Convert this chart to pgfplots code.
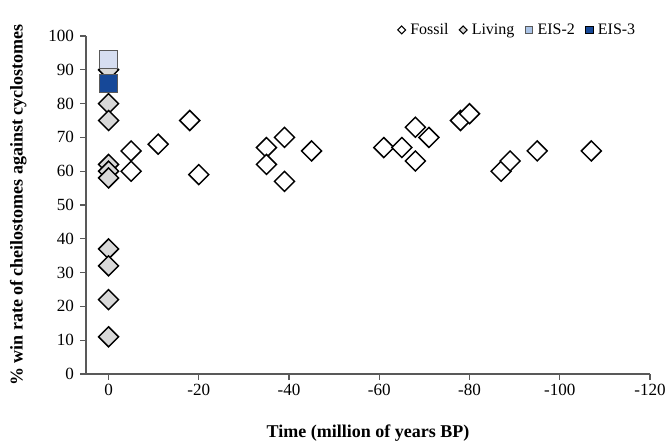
\documentclass[border=0pt]{standalone}
\usepackage{fontspec}
\setmainfont{Liberation Serif}
\usepackage{pgfplots}
\pgfplotsset{compat=1.18}
\definecolor{axisgray}{RGB}{89,89,89}
\definecolor{livgray}{RGB}{217,217,217}
\definecolor{eistwo}{RGB}{214,222,241}
\definecolor{eistwoleg}{RGB}{170,195,230}
\definecolor{eisthree}{RGB}{22,72,152}
\pgfplotsset{dotleg/.style={legend image code/.code={\draw[##1] plot coordinates {(0pt,0pt)};}}}

\begin{document}
\begin{tikzpicture}
\begin{axis}[
  name=ax,
  scale only axis, width=423pt, height=253.5pt,
  x dir=reverse, xmin=-120, xmax=5, ymin=0, ymax=100,
  axis x line*=bottom, axis y line*=left,
  axis line style={-, draw=axisgray, line width=1.1pt},
  xtick={0,-20,-40,-60,-80,-100,-120},
  xticklabels={0,-20,-40,-60,-80,-100,-120},
  ytick={0,10,...,100},
  tick align=outside, major tick length=4.25pt,
  tick style={draw=axisgray, line width=0.9pt},
  /pgf/number format/assume math mode=true,
  ticklabel style={font=\fontsize{12.8}{15}\selectfont},
  yticklabel style={xshift=-1.2pt},
  xlabel={\textbf{Time (million of years BP)}},
  ylabel={\textbf{\% win rate of cheilostomes against cyclostomes}},
  every axis x label/.style={at={(axis description cs:0.5,-0.174)}, anchor=center,
    font=\fontsize{13.5}{16}\selectfont},
  every axis y label/.style={at={(axis description cs:-0.12,0.5)}, rotate=90, anchor=center,
    font=\fontsize{13.5}{16}\selectfont},
  legend style={at={(rel axis cs:0.979,1.018)}, anchor=east, draw=none,
    fill=none, font=\fontsize{12}{14}\selectfont, legend columns=4,
    inner sep=0pt,
    /tikz/every odd column/.append style={column sep=1.5pt},
    /tikz/every even column/.append style={column sep=6pt}},
  legend cell align=left,
  clip=false,
]
% legend entries (small marks)
\addlegendimage{only marks, dotleg, mark=square*, mark size=2.1pt,
  mark options={rotate=45, fill=white, draw=black, line width=0.8pt}}
\addlegendentry{Fossil}
\addlegendimage{only marks, dotleg, mark=square*, mark size=2.1pt,
  mark options={rotate=45, fill=livgray, draw=black, line width=0.8pt}}
\addlegendentry{Living}
\addlegendimage{only marks, dotleg, mark=square*, mark size=2.9pt,
  mark options={fill=eistwoleg, draw=axisgray, line width=0.6pt}}
\addlegendentry{EIS-2}
\addlegendimage{only marks, dotleg, mark=square*, mark size=2.9pt,
  mark options={fill=eisthree, draw=black, line width=0.6pt}}
\addlegendentry{EIS-3}

% fossil
\addplot[forget plot, only marks, mark=square*, mark size=5.3pt,
  mark options={rotate=45, fill=white, draw=black, line width=1.1pt}]
  coordinates {
  (-5,66) (-5,60) (-11,68) (-18,75) (-20,59)
  (-35,67) (-35,62) (-39,70) (-39,57) (-45,66)
  (-61,67) (-65,67) (-68,73) (-68,63) (-71,70)
  (-78,75) (-80,77) (-87,60) (-89,63) (-95,66) (-107,66)
  };
% living
\addplot[forget plot, only marks, mark=square*, mark size=5.3pt,
  mark options={rotate=45, fill=livgray, draw=black, line width=1.1pt}]
  coordinates {
  (0,90) (0,80) (0,75) (0,62) (0,60) (0,58) (0,37) (0,32) (0,22) (0,11)
  };
% EIS-2
\addplot[forget plot, only marks, mark=square*, mark size=6.7pt,
  mark options={fill=eistwo, draw=axisgray, line width=1pt}]
  coordinates {(0,93)};
% EIS-3
\addplot[forget plot, only marks, mark=square*, mark size=6.7pt,
  mark options={fill=eisthree, draw=axisgray, line width=1pt}]
  coordinates {(0,86)};
\end{axis}
\pgfresetboundingbox
\path ([shift={(-64.5pt,-54pt)}]ax.south west) rectangle ([shift={(12pt,27pt)}]ax.north east);
\end{tikzpicture}
\end{document}
